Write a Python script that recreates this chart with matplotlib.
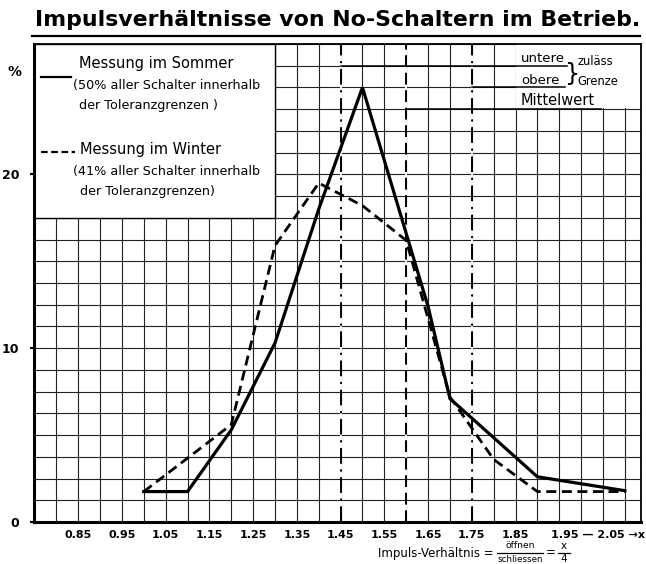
import matplotlib
matplotlib.use("Agg")
import matplotlib.pyplot as plt
from matplotlib.ticker import MultipleLocator
from matplotlib.patches import Rectangle
from matplotlib.lines import Line2D

# Messwerte (Impulsverhältnis x, Anteil in %)
x_sommer = [1.0, 1.1, 1.2, 1.3, 1.4, 1.5, 1.6, 1.65, 1.7, 1.9, 2.1]
y_sommer = [1.75, 1.75, 5.3, 10.3, 18.0, 25.0, 16.6, 12.4, 7.1, 2.6, 1.8]

x_winter = [1.0, 1.2, 1.3, 1.4, 1.5, 1.6, 1.7, 1.8, 1.9, 2.1]
y_winter = [1.75, 5.6, 15.9, 19.5, 18.2, 16.2, 7.2, 3.6, 1.75, 1.75]

# zulässige Grenzen und Mittelwert
x_untere = 1.45
x_obere = 1.75
x_mittel = 1.60

xtick_pos = [0.85, 0.95, 1.05, 1.15, 1.25, 1.35, 1.45, 1.55, 1.65, 1.75, 1.85]
xtick_lab = ["0.85", "0.95", "1.05", "1.15", "1.25", "1.35", "1.45", "1.55", "1.65", "1.75", "1.85"]
ytick_pos = [0, 10, 20]

plt.rcParams['font.family'] = ['DejaVu Sans']

W, H = 646, 564
fig = plt.figure(figsize=(W / 100, H / 100), dpi=100)
ax = fig.add_axes([0.0534, 0.0745, 0.9389, 0.8475])
ax.set_xlim(0.75, 2.137)
ax.set_ylim(0, 27.5)

# Raster
ax.xaxis.set_minor_locator(MultipleLocator(0.05))
ax.yaxis.set_minor_locator(MultipleLocator(1.25))
ax.grid(which='both', color='#222222', lw=0.8)
ax.set_xticks(xtick_pos)
ax.set_xticklabels(xtick_lab, fontsize=8, fontweight='bold')
ax.set_yticks(ytick_pos)
ax.set_yticklabels([str(v) for v in ytick_pos], fontsize=9, fontweight='bold')
ax.tick_params(axis='x', which='both', length=0, pad=6)
ax.tick_params(axis='y', which='major', length=3, width=1.5, direction='out', pad=8)
ax.tick_params(axis='y', which='minor', length=0)

for s in ['left', 'bottom']:
    ax.spines[s].set_linewidth(2.2)
for s in ['top', 'right']:
    ax.spines[s].set_linewidth(1.3)

# weiße Felder für Legende / Beschriftung
ax.add_patch(Rectangle((0.75, 17.5), 0.55, 10.0, facecolor='white', edgecolor='black', lw=1.0, zorder=2))
ax.add_patch(Rectangle((1.852, 23.8), 0.3, 3.7, facecolor='white', edgecolor='none', zorder=2))

# Grenzlinien
ax.axvline(x_untere, color='black', lw=1.4, ls=(0, (8, 3, 1, 3)), gapcolor='white', zorder=2.5)
ax.axvline(x_obere, color='black', lw=1.4, ls=(0, (8, 3, 1, 3)), gapcolor='white', zorder=2.5)
ax.axvline(x_mittel, color='black', lw=1.4, ls=(0, (6, 3)), gapcolor='white', zorder=2.5)
ax.plot([x_untere, 1.968], [26.25, 26.25], color='black', lw=1.1, zorder=4)
ax.plot([x_obere, 1.963], [25.0, 25.0], color='black', lw=1.1, zorder=4)
ax.plot([x_mittel, 2.046], [23.75, 23.75], color='black', lw=1.1, zorder=4)

# Messkurven
ax.plot(x_sommer, y_sommer, color='black', lw=2.3, zorder=3, solid_joinstyle='miter')
ax.plot(x_winter, y_winter, color='black', lw=2.0, ls=(0, (3.6, 2.0)), zorder=3)

# Legende
ax.plot([0.764, 0.833], [25.6, 25.6], color='black', lw=1.6, zorder=4)
ax.plot([0.764, 0.842], [21.3, 21.3], color='black', lw=1.6, ls=(0, (3, 1.6)), zorder=4)
ax.text(0.851, 26.35, "Messung im Sommer", fontsize=10.5, va='center', zorder=5)
ax.text(0.837, 25.1, "(50% aller Schalter innerhalb", fontsize=9.2, va='center', zorder=5)
ax.text(0.851, 23.95, "der Toleranzgrenzen )", fontsize=9.2, va='center', zorder=5)
ax.text(0.853, 21.45, "Messung im Winter", fontsize=10.5, va='center', zorder=5)
ax.text(0.839, 20.15, "(41% aller Schalter innerhalb", fontsize=9.2, va='center', zorder=5)
ax.text(0.853, 19.0, "der Toleranzgrenzen)", fontsize=9.2, va='center', zorder=5)

# Beschriftung rechts oben
ax.text(1.862, 26.3, "untere", fontsize=9.5, va='bottom', zorder=5)
ax.text(1.862, 25.05, "obere", fontsize=9.5, va='bottom', zorder=5)
ax.text(1.862, 23.8, "Mittelwert", fontsize=10.5, va='bottom', zorder=5)
ax.text(1.963, 25.75, "}", fontsize=17, va='center', zorder=5)
ax.text(1.992, 26.5, "zuläss", fontsize=8.3, va='center', zorder=5)
ax.text(1.992, 25.35, "Grenze", fontsize=8.3, va='center', zorder=5)

# Achsenbeschriftungen
ax.text(0.705, 25.9, "%", fontsize=10, fontweight='bold', ha='center', va='center', clip_on=False)


def ftext(px, py, s, **kw):
    fig.text(px / W, 1 - py / H, s, **kw)


ftext(551, 535, "1.95 — 2.05 →x", fontsize=8, fontweight='bold', ha='left', va='center')
ftext(494, 553, "Impuls-Verhältnis =", fontsize=8.5, ha='right', va='center')
ftext(520, 546, "öffnen", fontsize=6.6, ha='center', va='center')
ftext(520, 559.5, "schliessen", fontsize=6.3, ha='center', va='center')
fig.add_artist(Line2D([497 / W, 543 / W], [1 - 553 / H] * 2, color='black', lw=0.9))
ftext(551, 553, "=", fontsize=8.5, ha='center', va='center')
ftext(564, 546, "x", fontsize=7.5, ha='center', va='center')
ftext(564, 559.5, "4", fontsize=7.5, ha='center', va='center')
fig.add_artist(Line2D([558 / W, 570 / W], [1 - 553 / H] * 2, color='black', lw=0.9))

# Titel
fig.text(0.522, 0.965, "Impulsverhältnisse von No-Schaltern im Betrieb.", fontsize=15.8,
         fontweight='semibold', ha='center', va='center')
fig.add_artist(Line2D([0.049, 0.99], [0.937, 0.937], color='black', lw=1.6))

fig.savefig("out.png", dpi=100)
